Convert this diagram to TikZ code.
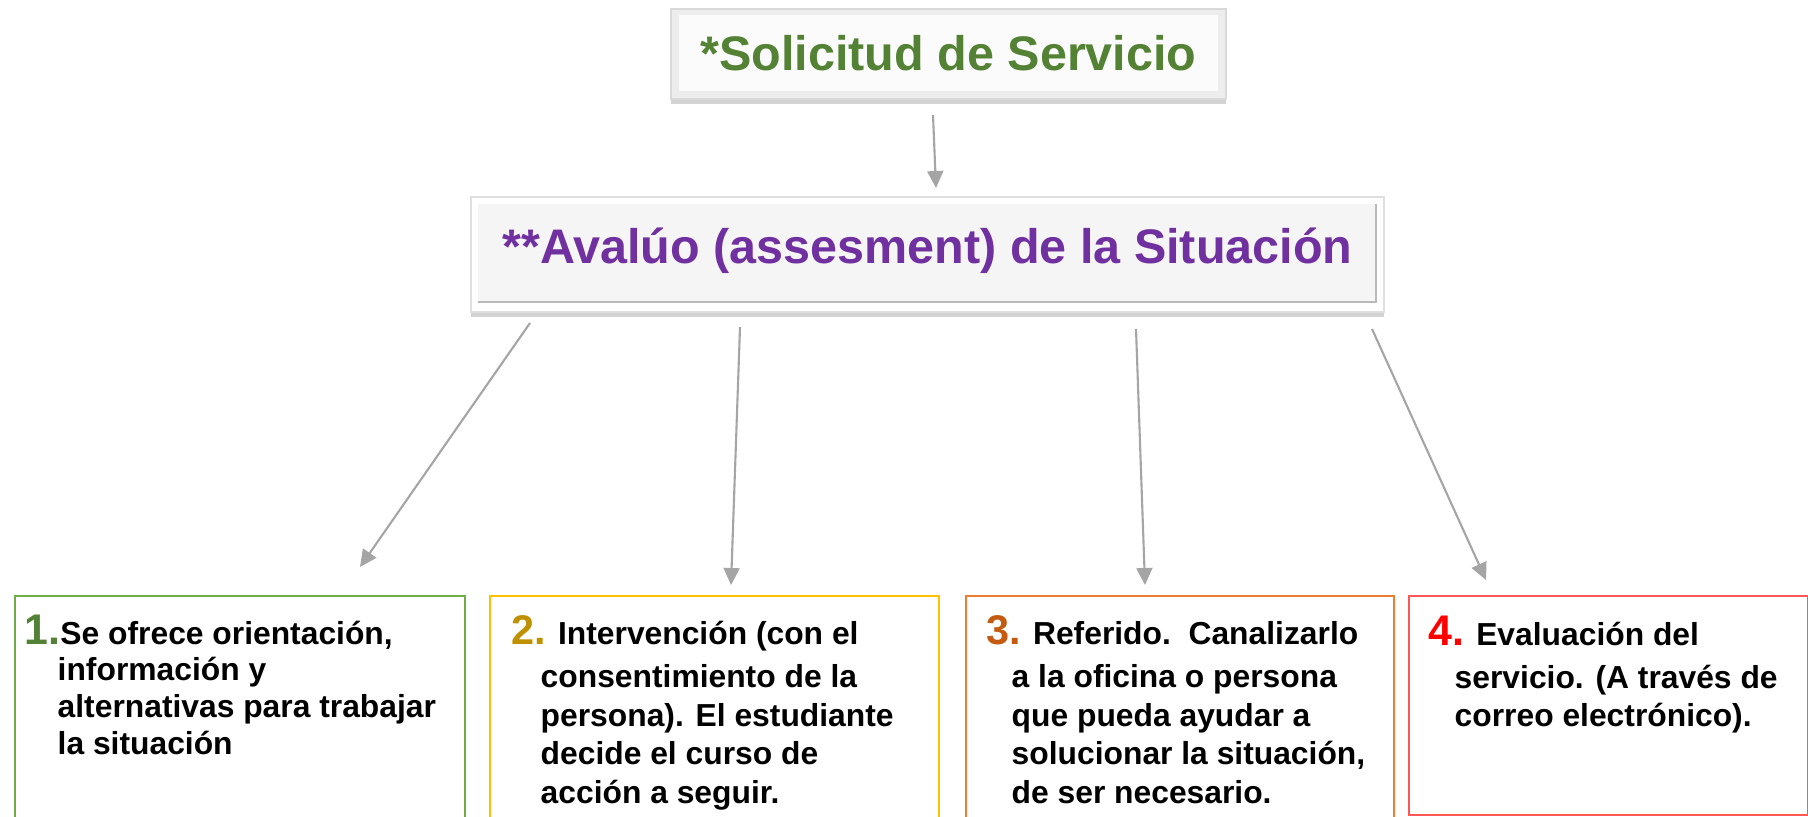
\documentclass[tikz,border=0pt]{standalone}
\usepackage{fontspec}
\setmainfont{Liberation Sans}
\usetikzlibrary{shapes, arrows.meta, positioning, shadows}

\definecolor{verdeTit}{HTML}{548235}
\definecolor{moradoTit}{HTML}{7030A0}
\definecolor{verdeCaja}{HTML}{70AD47}
\definecolor{verdeNum}{HTML}{538135}
\definecolor{oroCaja}{HTML}{FFC000}
\definecolor{oroNum}{HTML}{BF9000}
\definecolor{naranjaCaja}{HTML}{ED7D31}
\definecolor{naranjaNum}{HTML}{C55A11}
\definecolor{rojoCaja}{HTML}{FF5757}
\definecolor{rojoNum}{HTML}{FF0000}
\definecolor{flechaGris}{HTML}{A5A5A5}

\newcommand{\numero}[3]{{\color{#1}\fontsize{#2}{11pt}\selectfont #3}}

\begin{document}
\begin{tikzpicture}[
		titulo/.style={rectangle, inner sep=0pt, font=\fontsize{13.8pt}{16pt}\selectfont\bfseries, drop shadow={shadow xshift=0cm, shadow yshift=-0.05cm, opacity=0.35, fill=gray}},
		caja/.style={rectangle, anchor=north west, line width=0.6pt, inner sep=0pt, minimum height=2.4cm},
		texto/.style={inner sep=0pt, align=left, font=\fontsize{9.05pt}{10.95pt}\selectfont\bfseries},
		flecha/.style={draw=flechaGris, line width=0.6pt, -{Triangle[width=0.16cm, length=0.17cm]}}]
		\useasboundingbox (0, 0) rectangle (18.08, 8.16);
		\node(SOL) at (9.485, 7.62)[titulo, fill=gray!14, draw=gray!30, minimum width=5.55cm, minimum height=0.90cm, text height=0.40cm, text depth=0.08cm, text=verdeTit, path picture={
				\fill[gray!3] ([xshift=0.08cm, yshift=-0.06cm]path picture bounding box.north west) rectangle ([xshift=-0.08cm, yshift=0.08cm]path picture bounding box.south east);
			}]{*Solicitud de Servicio};
		\node(AVAL) at (9.275, 5.615)[titulo, fill=white, draw=gray!25, minimum width=9.13cm, minimum height=1.15cm, text height=0.40cm, text depth=0.23cm, text=moradoTit, path picture={
				\fill[gray!8] ([xshift=0.07cm, yshift=-0.07cm]path picture bounding box.north west) rectangle ([xshift=-0.08cm, yshift=0.10cm]path picture bounding box.south east);
				\draw[gray!55, line width=0.8pt] ([xshift=0.07cm, yshift=0.10cm]path picture bounding box.south west)--([xshift=-0.08cm, yshift=0.10cm]path picture bounding box.south east)--([xshift=-0.08cm, yshift=-0.07cm]path picture bounding box.north east);
			}]{**Avalúo (assesment) de la Situación};
		\node(B1) at (0.14, 2.21)[caja, draw=verdeCaja, minimum width=4.50cm]{};
		\node(B2) at (4.89, 2.21)[caja, draw=oroCaja, minimum width=4.49cm]{};
		\node(B3) at (9.65, 2.21)[caja, draw=naranjaCaja, minimum width=4.28cm]{};
		\node(B4) at (14.08, 2.21)[caja, draw=rojoCaja, minimum width=3.99cm, minimum height=2.19cm]{};
		\node(T1)[texto, font=\fontsize{9.05pt}{10.44pt}\selectfont\bfseries, below right=0.19cm and 0.10cm of B1.north west]{\numero{verdeNum}{12.2pt}{1.}Se ofrece orientación,\\\hspace*{0.33cm}información y\\\hspace*{0.33cm}alternativas para trabajar\\\hspace*{0.33cm}la situación};
		\node(T2)[texto, below right=0.20cm and 0.22cm of B2.north west]{\numero{oroNum}{11.8pt}{2.} Intervención (con el\\[1.3pt]\hspace*{0.29cm}consentimiento de la\\\hspace*{0.29cm}persona). El estudiante\\\hspace*{0.29cm}decide el curso de\\\hspace*{0.29cm}acción a seguir.};
		\node(T3)[texto, below right=0.20cm and 0.21cm of B3.north west]{\numero{naranjaNum}{11.8pt}{3.} Referido.\ \ Canalizarlo\\[1.3pt]\hspace*{0.25cm}a la oficina o persona\\\hspace*{0.25cm}que pueda ayudar a\\\hspace*{0.25cm}solucionar la situación,\\\hspace*{0.25cm}de ser necesario.};
		\node(T4)[texto, below right=0.20cm and 0.20cm of B4.north west]{\numero{rojoNum}{12.2pt}{4.} Evaluación del\\[1.3pt]\hspace*{0.26cm}servicio. (A través de\\\hspace*{0.26cm}correo electrónico).};
		\coordinate(A0) at (9.33, 7.01);
		\coordinate(E0) at (9.36, 6.28);
		\coordinate(A1) at (5.30, 4.93);
		\coordinate(E1) at (3.60, 2.49);
		\coordinate(A2) at (7.40, 4.89);
		\coordinate(E2) at (7.31, 2.31);
		\coordinate(A3) at (11.36, 4.87);
		\coordinate(E3) at (11.45, 2.31);
		\coordinate(A4) at (13.72, 4.87);
		\coordinate(E4) at (14.86, 2.36);
		\draw[flecha] (A0)--(E0);
		\draw[flecha] (A1)--(E1);
		\draw[flecha] (A2)--(E2);
		\draw[flecha] (A3)--(E3);
		\draw[flecha] (A4)--(E4);
\end{tikzpicture}
\end{document}
